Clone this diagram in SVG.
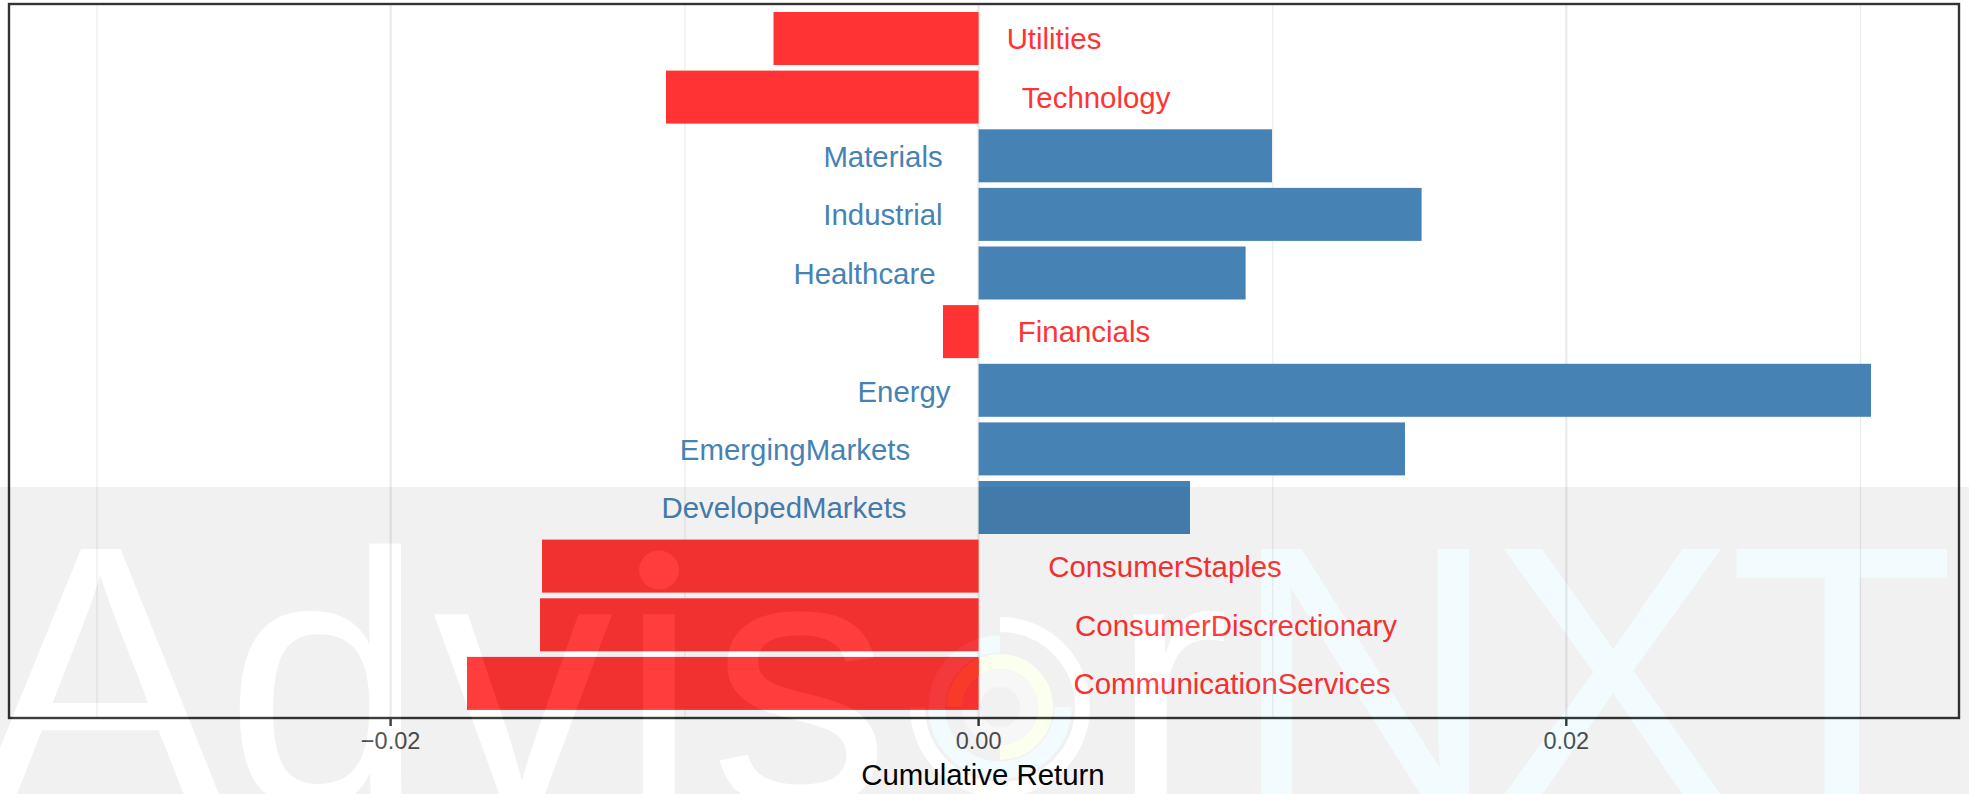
<svg xmlns="http://www.w3.org/2000/svg" width="1969" height="794" viewBox="0 0 1969 794">
<style>
.grid-major{stroke:#ebebeb;stroke-width:2.4;fill:none}
.grid-minor{stroke:#ebebeb;stroke-width:1.2;fill:none}
.neg{fill:#ff3333}
.pos{fill:#4682b4}
text{font-family:"Liberation Sans",Arial,sans-serif}
.lab{font-size:29.4px;text-anchor:middle}
.lab-neg{fill:#ff3333}
.lab-pos{fill:#4682b4}
.tick{font-size:23.5px;fill:#4d4d4d;text-anchor:middle}
.title{font-size:29.4px;fill:#000;text-anchor:middle}
.wm{font-family:"Roboto","Liberation Sans",sans-serif;font-weight:300;font-size:361px;text-anchor:middle}
.wm .cap{font-size:372px}
.ring{fill:none}
</style>
<defs>
<clipPath id="i-stem"><rect x="620" y="610" width="80" height="200"/></clipPath>
<g id="adv" class="wm">
<text class="cap" x="100" y="805">A</text>
<text x="325" y="805">d</text>
<text x="523" y="805">v</text>
<text x="659" y="805" clip-path="url(#i-stem)">i</text>
<ellipse cx="659" cy="570" rx="20" ry="19.5"/>
<text x="800" y="805">s</text>
<text x="1170" y="805">r</text>
</g>
<g id="nxt" class="wm">
<text class="cap" x="1365" y="805">N</text>
<text class="cap" x="1612" y="805">X</text>
<text class="cap" x="1842" y="805">T</text>
</g>
<path id="r-a" d="M1000 624.5A82.5 82.5 0 1 1 917.5 707"/>
<path id="r-b" d="M1063 707A63 63 0 1 1 1000 644"/>
<path id="r-c" d="M954.5 707A45.5 45.5 0 1 1 1000 752.5"/>
<mask id="holes" maskUnits="userSpaceOnUse" x="0" y="487" width="1969" height="307">
<rect x="0" y="487" width="1969" height="307" fill="#fff"/>
<use href="#adv" fill="#000"/>
<use href="#nxt" fill="#000"/>
<use href="#r-a" fill="none" stroke="#000" stroke-width="15"/>
<use href="#r-b" fill="none" stroke="#000" stroke-width="17"/>
<use href="#r-c" fill="none" stroke="#000" stroke-width="15"/>
<circle cx="1000" cy="707" r="29" fill="none" stroke="#999" stroke-width="18"/>
</mask>
<clipPath id="red-bar"><rect x="900" y="656.9" width="78.6" height="53"/></clipPath>
</defs>
<rect x="0" y="0" width="1969" height="794" fill="#fff"/>
<g id="grid">
<path class="grid-minor" d="M97 4V718M685 4V718M1272.8 4V718M1860.5 4V718"/>
<path class="grid-major" d="M390.6 4V718M978.6 4V718M1566.3 4V718"/>
</g>
<g id="bars">
<g id="utilities"><rect class="neg" x="773.5" y="12" width="205.1" height="53"/><text class="lab lab-neg" x="1054" y="49">Utilities</text></g>
<g id="technology"><rect class="neg" x="666" y="70.6" width="312.6" height="53"/><text class="lab lab-neg" x="1096" y="108">Technology</text></g>
<g id="materials"><rect class="pos" x="978.6" y="129.3" width="293.4" height="53"/><text class="lab lab-pos" x="883" y="167">Materials</text></g>
<g id="industrial"><rect class="pos" x="978.6" y="187.9" width="443" height="53"/><text class="lab lab-pos" x="883" y="225">Industrial</text></g>
<g id="healthcare"><rect class="pos" x="978.6" y="246.5" width="267" height="53"/><text class="lab lab-pos" x="864.5" y="284">Healthcare</text></g>
<g id="financials"><rect class="neg" x="943" y="305.1" width="35.6" height="53"/><text class="lab lab-neg" x="1084" y="342">Financials</text></g>
<g id="energy"><rect class="pos" x="978.6" y="363.8" width="892.4" height="53"/><text class="lab lab-pos" x="904" y="401.5">Energy</text></g>
<g id="emergingmarkets"><rect class="pos" x="978.6" y="422.4" width="426.4" height="53"/><text class="lab lab-pos" x="795" y="459.5">EmergingMarkets</text></g>
<g id="developedmarkets"><rect class="pos" x="978.6" y="481" width="211.4" height="53"/><text class="lab lab-pos" x="784" y="518">DevelopedMarkets</text></g>
<g id="consumerstaples"><rect class="neg" x="542" y="539.6" width="436.6" height="53"/><text class="lab lab-neg" x="1165" y="576.5">ConsumerStaples</text></g>
<g id="consumerdiscretionary"><rect class="neg" x="540" y="598.3" width="438.6" height="53"/><text class="lab lab-neg" x="1236" y="635.5">ConsumerDiscrectionary</text></g>
<g id="communicationservices"><rect class="neg" x="467" y="656.9" width="511.6" height="53"/><text class="lab lab-neg" x="1232" y="694">CommunicationServices</text></g>
</g>
<g id="axes">
<rect x="9" y="4" width="1950" height="714" fill="none" stroke="#333" stroke-width="2.4"/>
<path d="M390.6 718V726M978.6 718V726M1566.3 718V726" stroke="#333" stroke-width="2.4" fill="none"/>
<text class="tick" x="390.6" y="749">−0.02</text>
<text class="tick" x="978.6" y="749">0.00</text>
<text class="tick" x="1566.3" y="749">0.02</text>
<text class="title" x="983" y="785">Cumulative Return</text>
</g>
<g id="watermark">
<rect x="0" y="487" width="1969" height="307" fill="#000" fill-opacity="0.055" mask="url(#holes)"/>
<use href="#adv" fill="#fff" fill-opacity="0.05"/>
<use href="#nxt" fill="#00ccff" fill-opacity="0.05"/>
<use href="#r-b" fill="none" stroke="#00ccff" stroke-opacity="0.05" stroke-width="17"/>
<use href="#r-c" fill="none" stroke="#c8ff00" stroke-opacity="0.07" stroke-width="15"/>
<use href="#r-c" fill="none" stroke="#f83a28" stroke-width="15" clip-path="url(#red-bar)"/>
</g>
</svg>
